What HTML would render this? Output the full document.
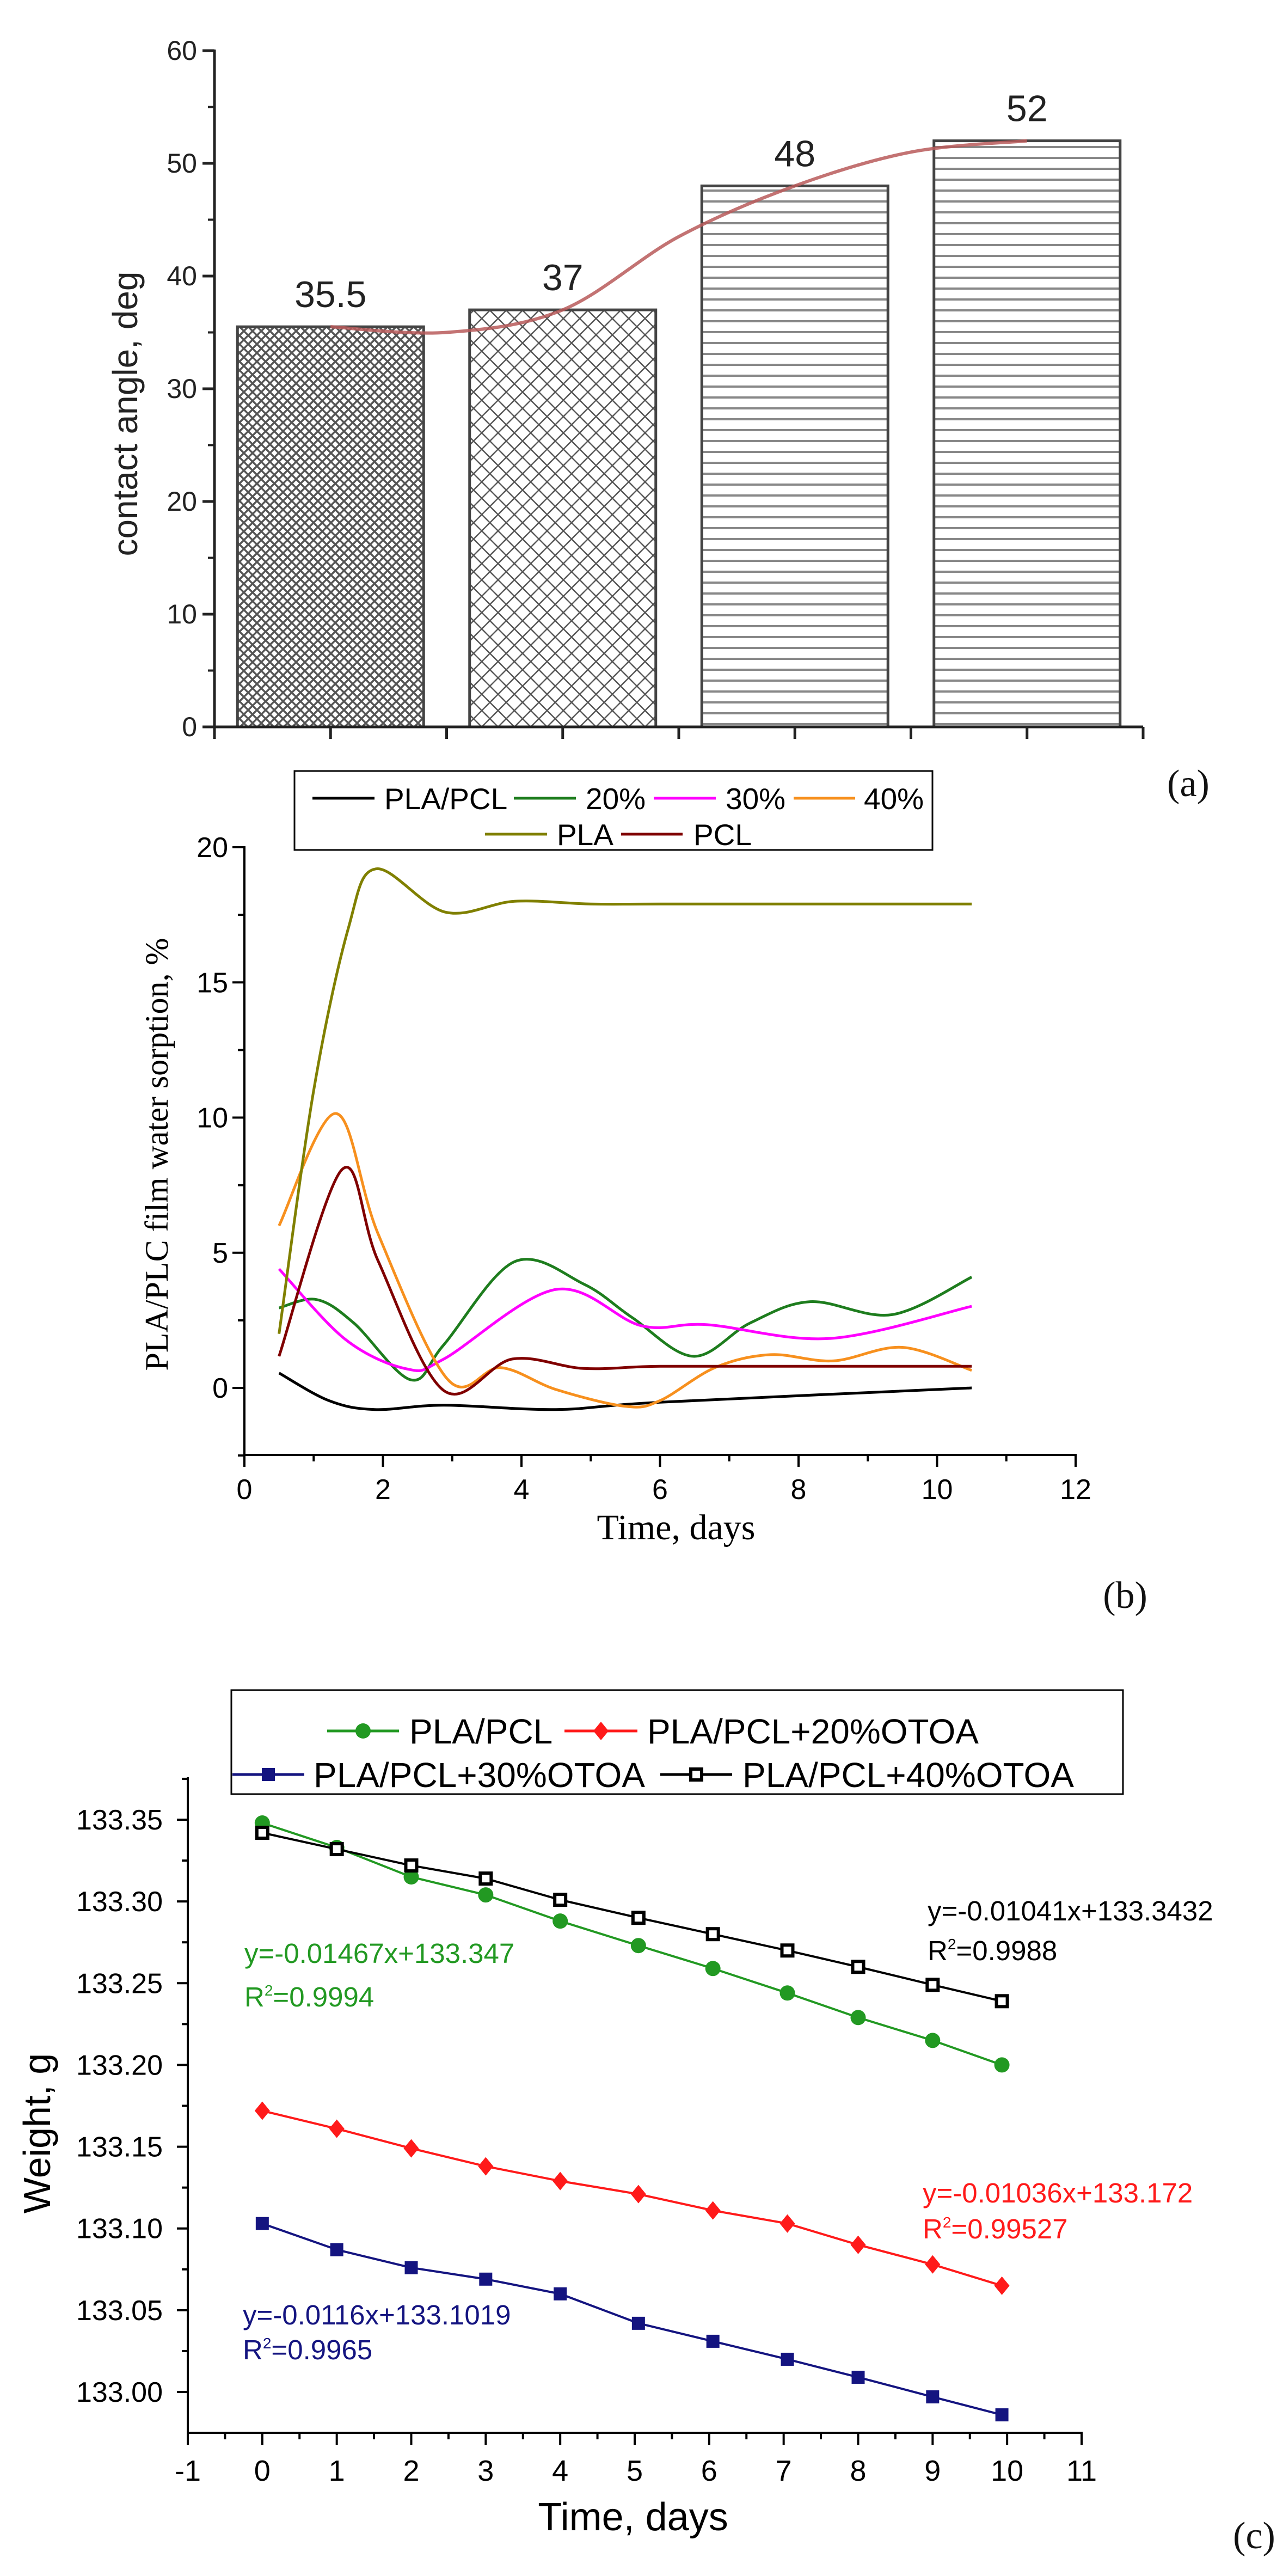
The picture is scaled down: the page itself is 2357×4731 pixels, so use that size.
<!DOCTYPE html>
<html><head><meta charset="utf-8">
<style>
html,body{margin:0;padding:0;background:#fff;}
svg{display:block;}
.sans{font-family:"Liberation Sans",Arial,sans-serif;}
.serif{font-family:"Liberation Serif","Times New Roman",serif;}
</style></head>
<body>
<svg id="fig" width="2357" height="4731" viewBox="0 0 2357 4731" xmlns="http://www.w3.org/2000/svg">
<defs>
<pattern id="finehatch" patternUnits="userSpaceOnUse" width="16" height="16">
<rect width="16" height="16" fill="#fff"/>
<path d="M0,0 L16,16 M16,0 L0,16" stroke="#555" stroke-width="3.5"/>
</pattern>
<pattern id="coarsehatch" patternUnits="userSpaceOnUse" width="30" height="30">
<rect width="30" height="30" fill="#fff"/>
<path d="M0,0 L30,30 M30,0 L0,30" stroke="#555" stroke-width="2.5"/>
</pattern>
<pattern id="hlines" patternUnits="userSpaceOnUse" width="20" height="20">
<rect width="20" height="20" fill="#fff"/>
<rect y="8" width="20" height="4" fill="#888"/>
</pattern>
</defs>
<g id="chartA"></g>
<g id="chartB"></g>
<g id="chartC"></g>
</svg>
<script>
// ---------- Chart A data ----------
const aCategories = ["PLA/PCL", "20%", "30%", "40%"];
const aValues = [35.5, 37, 48, 52];
const aLabels = ["35.5", "37", "48", "52"];
const aTicks = [0, 10, 20, 30, 40, 50, 60];
const aFitX = [0, 0.5, 1, 1.5, 2, 2.5, 3];
const aFitY = [35.5, 35.0, 37, 43.5, 48, 51, 52];

// ---------- Chart B data ----------
const bXTicks = [0, 2, 4, 6, 8, 10, 12];
const bYTicks = [0, 5, 10, 15, 20];
const bPLApcl_x = [0.5, 1.22, 1.88, 2.88, 4.5, 6, 10.5];
const bPLApcl_y = [0.55, -0.47, -0.8, -0.64, -0.8, -0.53, 0];
const b20_x = [0.5, 1.04, 1.58, 2.4, 2.88, 3.9, 4.9, 5.6, 6.48, 7.3, 8.17, 9.35, 10.5];
const b20_y = [2.96, 3.27, 2.4, 0.3, 1.6, 4.67, 3.84, 2.6, 1.17, 2.4, 3.19, 2.71, 4.1];
const b30_x = [0.5, 1.46, 2.35, 2.88, 4.49, 5.73, 6.68, 8.46, 10.5];
const b30_y = [4.4, 1.79, 0.7, 1.07, 3.64, 2.3, 2.34, 1.83, 3.02];
const b40_x = [0.5, 1.32, 1.93, 2.94, 3.7, 4.5, 5.5, 6.0, 6.8, 7.6, 8.5, 9.5, 10.5];
const b40_y = [6.0, 10.15, 5.7, 0.3, 0.75, -0.06, -0.68, -0.47, 0.76, 1.23, 1.0, 1.5, 0.65];
const bPLA_x = [0.5, 1.0, 1.5, 1.9, 2.9, 3.9, 5.0, 6.0, 8.0, 10.5];
const bPLA_y = [2.0, 11.0, 17.0, 19.2, 17.6, 18.0, 17.9, 17.9, 17.9, 17.9];
const bPCL_x = [0.5, 1.41, 1.93, 2.88, 3.87, 4.9, 6.0, 8.0, 10.5];
const bPCL_y = [1.17, 8.08, 4.7, -0.1, 1.07, 0.72, 0.8, 0.8, 0.8];

// ---------- Chart C data ----------
const cXTicks = [-1, 0, 1, 2, 3, 4, 5, 6, 7, 8, 9, 10, 11];
const cYTicks = [133.00, 133.05, 133.10, 133.15, 133.20, 133.25, 133.30, 133.35];
const cDays = [0, 1, 2, 3, 4, 5.05, 6.05, 7.05, 8, 9, 9.93];
const cPLApcl = [133.348, 133.333, 133.315, 133.304, 133.288, 133.273, 133.259, 133.244, 133.229, 133.215, 133.200];
const c20 = [133.172, 133.161, 133.149, 133.138, 133.129, 133.121, 133.111, 133.103, 133.090, 133.078, 133.065];
const c30 = [133.103, 133.087, 133.076, 133.069, 133.060, 133.042, 133.031, 133.020, 133.009, 132.997, 132.986];
const c40 = [133.342, 133.332, 133.322, 133.314, 133.301, 133.290, 133.280, 133.270, 133.260, 133.249, 133.239];

const NS = "http://www.w3.org/2000/svg";
function mk(parent, tag, attrs, text) {
  const e = document.createElementNS(NS, tag);
  for (const k in attrs) e.setAttribute(k, attrs[k]);
  if (text !== undefined) e.textContent = text;
  parent.appendChild(e);
  return e;
}
function smoothPath(pts) {
  let d = "M" + pts[0][0] + "," + pts[0][1];
  for (let i = 0; i < pts.length - 1; i++) {
    const p0 = pts[i - 1] || pts[i], p1 = pts[i], p2 = pts[i + 1], p3 = pts[i + 2] || p2;
    const c1x = p1[0] + (p2[0] - p0[0]) / 6, c1y = p1[1] + (p2[1] - p0[1]) / 6;
    const c2x = p2[0] - (p3[0] - p1[0]) / 6, c2y = p2[1] - (p3[1] - p1[1]) / 6;
    d += " C" + c1x + "," + c1y + " " + c2x + "," + c2y + " " + p2[0] + "," + p2[1];
  }
  return d;
}

// ================= CHART A =================
(function () {
  const g = document.getElementById("chartA");
  const x0 = 394, x1 = 2100, yBase = 1335, yTop = 93;
  const ay = v => yBase - (v / 60) * (yBase - yTop);
  const slot = (x1 - x0) / 4;
  const ax = i => x0 + slot * (i + 0.5);
  const barW = 342;
  const fills = ["url(#finehatch)", "url(#coarsehatch)", "url(#hlines)", "url(#hlines)"];
  aValues.forEach((v, i) => {
    const r = mk(g, "rect", { x: ax(i) - barW / 2, y: ay(v), width: barW, height: yBase - ay(v), fill: fills[i], stroke: "#444", "stroke-width": 5 });
    
    
    const t = mk(g, "text", { x: ax(i), y: ay(v) - 36, "text-anchor": "middle", "font-size": 68, fill: "#222", class: "sans" }, aLabels[i]);
    
    
  });
  // fit curve
  const fx = u => ax(0) + u * slot;
  const pts = aFitX.map((u, i) => [fx(u), ay(aFitY[i])]);
  const c = mk(g, "path", { d: smoothPath(pts), fill: "none", stroke: "#b85a5a", "stroke-width": 6, "stroke-opacity": 0.85 });
  
  
  // axes
  const ya = mk(g, "line", { x1: x0, y1: yTop - 2, x2: x0, y2: yBase + 3, stroke: "#222", "stroke-width": 5 });
  
  
  const xa = mk(g, "line", { x1: x0, y1: yBase, x2: x1, y2: yBase, stroke: "#222", "stroke-width": 5 });
  
  
  aTicks.forEach(v => {
    mk(g, "line", { x1: x0 - 22, y1: ay(v), x2: x0, y2: ay(v), stroke: "#222", "stroke-width": 5 });
    if (v < 60) mk(g, "line", { x1: x0 - 12, y1: ay(v + 5), x2: x0, y2: ay(v + 5), stroke: "#222", "stroke-width": 4 });
    const t = mk(g, "text", { x: x0 - 32, y: ay(v) + 17, "text-anchor": "end", "font-size": 50, fill: "#222", class: "sans" }, String(v));
    
    
  });
  for (let i = 0; i <= 4; i++) mk(g, "line", { x1: x0 + slot * i, y1: yBase, x2: x0 + slot * i, y2: yBase + 22, stroke: "#222", "stroke-width": 5 });
  for (let i = 0; i < 4; i++) mk(g, "line", { x1: ax(i), y1: yBase, x2: ax(i), y2: yBase + 22, stroke: "#222", "stroke-width": 5 });
  const yt = mk(g, "text", { x: 0, y: 0, transform: "translate(252,760) rotate(-90)", "text-anchor": "middle", "font-size": 64, fill: "#222", class: "sans" }, "contact angle, deg");
  
  
  const pl = mk(g, "text", { x: 2183, y: 1462, "text-anchor": "middle", "font-size": 70, fill: "#111", class: "serif" }, "(a)");
  
  
})();

// ================= CHART B =================
(function () {
  const g = document.getElementById("chartB");
  const X0 = 449, X12 = 1976, Y0 = 2549, Y20 = 1556, YB = 2672;
  const bx = v => X0 + v / 12 * (X12 - X0);
  const by = v => Y0 - v / 20 * (Y0 - Y20);
  const series = [
    { name: "PLA/PCL", x: bPLApcl_x, y: bPLApcl_y, c: "#000000" },
    { name: "20%", x: b20_x, y: b20_y, c: "#1e7d1e" },
    { name: "30%", x: b30_x, y: b30_y, c: "#ff00ff" },
    { name: "40%", x: b40_x, y: b40_y, c: "#f7901e" },
    { name: "PLA", x: bPLA_x, y: bPLA_y, c: "#808000" },
    { name: "PCL", x: bPCL_x, y: bPCL_y, c: "#800000" }
  ];
  series.forEach(s => {
    const pts = s.x.map((v, i) => [bx(v), by(s.y[i])]);
    const p = mk(g, "path", { d: smoothPath(pts), fill: "none", stroke: s.c, "stroke-width": 5 });
    
    
  });
  mk(g, "line", { x1: X0, y1: Y20 - 2, x2: X0, y2: YB + 2, stroke: "#000", "stroke-width": 4 });
  mk(g, "line", { x1: X0, y1: YB, x2: X12 + 2, y2: YB, stroke: "#000", "stroke-width": 4 });
  for (let v = -2.5; v <= 20; v += 2.5) {
    const major = Math.abs(v % 5) < 1e-6;
    mk(g, "line", { x1: X0 - (major ? 22 : 12), y1: by(v), x2: X0, y2: by(v), stroke: "#000", "stroke-width": 4 });
  }
  bYTicks.forEach(v => {
    const t = mk(g, "text", { x: X0 - 30, y: by(v) + 18, "text-anchor": "end", "font-size": 52, fill: "#000", class: "sans" }, String(v));
    
    
  });
  for (let v = 0; v <= 12; v++) {
    const major = v % 2 === 0;
    mk(g, "line", { x1: bx(v), y1: YB, x2: bx(v), y2: YB + (major ? 22 : 12), stroke: "#000", "stroke-width": 4 });
  }
  bXTicks.forEach(v => {
    const t = mk(g, "text", { x: bx(v), y: 2753, "text-anchor": "middle", "font-size": 52, fill: "#000", class: "sans" }, String(v));
    
    
  });
  const xt = mk(g, "text", { x: 1242, y: 2827, "text-anchor": "middle", "font-size": 66, fill: "#000", class: "serif" }, "Time, days");
  
  
  const yt = mk(g, "text", { x: 0, y: 0, transform: "translate(308,2120) rotate(-90)", "text-anchor": "middle", "font-size": 60, fill: "#000", class: "serif" }, "PLA/PLC film water sorption, %");
  
  
  // legend
  const lg = mk(g, "g", {});
  
  
  mk(lg, "rect", { x: 541, y: 1416, width: 1172, height: 145, fill: "#fff", stroke: "#000", "stroke-width": 3 });
  const items = [
    [574, 688, 706, 1466, 0], [944, 1058, 1076, 1466, 1], [1201, 1315, 1333, 1466, 2], [1458, 1571, 1587, 1466, 3],
    [891, 1005, 1023, 1532, 4], [1141, 1254, 1274, 1532, 5]
  ];
  items.forEach(it => {
    const s = series[it[4]];
    const e = mk(lg, "g", {});
    
    
    mk(e, "line", { x1: it[0], y1: it[3], x2: it[1], y2: it[3], stroke: s.c, "stroke-width": 5 });
    mk(e, "text", { x: it[2], y: it[3] + 20, "font-size": 55, fill: "#000", class: "sans" }, s.name);
  });
  const pl = mk(g, "text", { x: 2067, y: 2953, "text-anchor": "middle", "font-size": 70, fill: "#111", class: "serif" }, "(b)");
  
  
})();

// ================= CHART C =================
(function () {
  const g = document.getElementById("chartC");
  const Xm1 = 345, X11 = 1987, Y00 = 4393, Y35 = 3342, YB = 4468, YT = 3264;
  const cx = v => Xm1 + (v + 1) / 12 * (X11 - Xm1);
  const cy = v => Y00 - (v - 133.00) / 0.35 * (Y00 - Y35);
  const series = [
    { name: "PLA/PCL", y: cPLApcl, c: "#229922", m: "circle" },
    { name: "PLA/PCL+20%OTOA", y: c20, c: "#ff1a1a", m: "diamond" },
    { name: "PLA/PCL+30%OTOA", y: c30, c: "#141480", m: "square" },
    { name: "PLA/PCL+40%OTOA", y: c40, c: "#000000", m: "hsquare" }
  ];
  function marker(parent, type, x, y, col) {
    if (type === "circle") mk(parent, "circle", { cx: x, cy: y, r: 14, fill: col });
    else if (type === "diamond") mk(parent, "path", { d: `M${x},${y - 17} L${x + 14},${y} L${x},${y + 17} L${x - 14},${y} Z`, fill: col });
    else if (type === "square") mk(parent, "rect", { x: x - 12, y: y - 12, width: 24, height: 24, fill: col });
    else {
      mk(parent, "rect", { x: x - 10, y: y - 10, width: 20, height: 20, fill: "#fff", stroke: col, "stroke-width": 6 });
    }
  }
  series.forEach(s => {
    const sg = mk(g, "g", {});
    
    
    const d = cDays.map((v, i) => (i ? "L" : "M") + cx(v) + "," + cy(s.y[i])).join(" ");
    mk(sg, "path", { d: d, fill: "none", stroke: s.c, "stroke-width": 4 });
    cDays.forEach((v, i) => marker(sg, s.m, cx(v), cy(s.y[i]), s.c));
  });
  mk(g, "line", { x1: Xm1, y1: YT, x2: Xm1, y2: YB + 2, stroke: "#000", "stroke-width": 4 });
  mk(g, "line", { x1: Xm1, y1: YB, x2: X11 + 2, y2: YB, stroke: "#000", "stroke-width": 4 });
  for (let k = -1; k <= 15; k++) {
    const v = 133.0 + k * 0.025;
    const y = cy(v);
    if (y < YT || y > YB) continue;
    const major = k % 2 === 0;
    mk(g, "line", { x1: Xm1 - (major ? 20 : 11), y1: y, x2: Xm1, y2: y, stroke: "#000", "stroke-width": 4 });
  }
  cYTicks.forEach(v => {
    const t = mk(g, "text", { x: 299, y: cy(v) + 18, "text-anchor": "end", "font-size": 52, fill: "#000", class: "sans" }, v.toFixed(2));
    
    
  });
  for (let k = -2; k <= 22; k++) {
    const v = k / 2;
    const major = k % 2 === 0;
    mk(g, "line", { x1: cx(v), y1: YB, x2: cx(v), y2: YB + (major ? 22 : 12), stroke: "#000", "stroke-width": 4 });
  }
  cXTicks.forEach(v => {
    const t = mk(g, "text", { x: cx(v), y: 4556, "text-anchor": "middle", "font-size": 54, fill: "#000", class: "sans" }, String(v));
    
    
  });
  const xt = mk(g, "text", { x: 1163, y: 4647, "text-anchor": "middle", "font-size": 72, fill: "#000", class: "sans" }, "Time, days");
  
  
  const yt = mk(g, "text", { x: 0, y: 0, transform: "translate(92,3918) rotate(-90)", "text-anchor": "middle", "font-size": 70, fill: "#000", class: "sans" }, "Weight, g");
  
  
  // equations
  const eqs = [
    [1704, 3527, 3600, "#000", "y=-0.01041x+133.3432", "0.9988"],
    [449, 3605, 3685, "#229922", "y=-0.01467x+133.347", "0.9994"],
    [1695, 4045, 4111, "#ff1a1a", "y=-0.01036x+133.172", "0.99527"],
    [446, 4269, 4333, "#141480", "y=-0.0116x+133.1019", "0.9965"]
  ];
  eqs.forEach(e => {
    const eg = mk(g, "g", {});
    
    
    mk(eg, "text", { x: e[0], y: e[1], "font-size": 51, fill: e[3], class: "sans" }, e[4]);
    const r = mk(eg, "text", { x: e[0], y: e[2], "font-size": 51, fill: e[3], class: "sans" });
    r.appendChild(document.createTextNode("R"));
    const sup = mk(r, "tspan", { dy: -20, "font-size": 28 }, "2");
    mk(r, "tspan", { dy: 20 }, "=" + e[5]);
  });
  // legend
  const lg = mk(g, "g", {});
  
  
  mk(lg, "rect", { x: 425, y: 3104, width: 1638, height: 191, fill: "#fff", stroke: "#000", "stroke-width": 3 });
  const items = [[601, 733, 752, 3179, 0], [1037, 1171, 1189, 3179, 1], [427, 559, 576, 3259, 2], [1213, 1345, 1364, 3259, 3]];
  items.forEach(it => {
    const s = series[it[4]];
    const e = mk(lg, "g", {});
    
    
    mk(e, "line", { x1: it[0], y1: it[3], x2: it[1], y2: it[3], stroke: s.c, "stroke-width": 5 });
    marker(e, s.m, (it[0] + it[1]) / 2, it[3], s.c);
    mk(e, "text", { x: it[2], y: it[3] + 23, "font-size": 64, fill: "#000", class: "sans" }, s.name);
  });
  const pl = mk(g, "text", { x: 2304, y: 4680, "text-anchor": "middle", "font-size": 70, fill: "#111", class: "serif" }, "(c)");
  
  
})();
</script>
</body></html>
